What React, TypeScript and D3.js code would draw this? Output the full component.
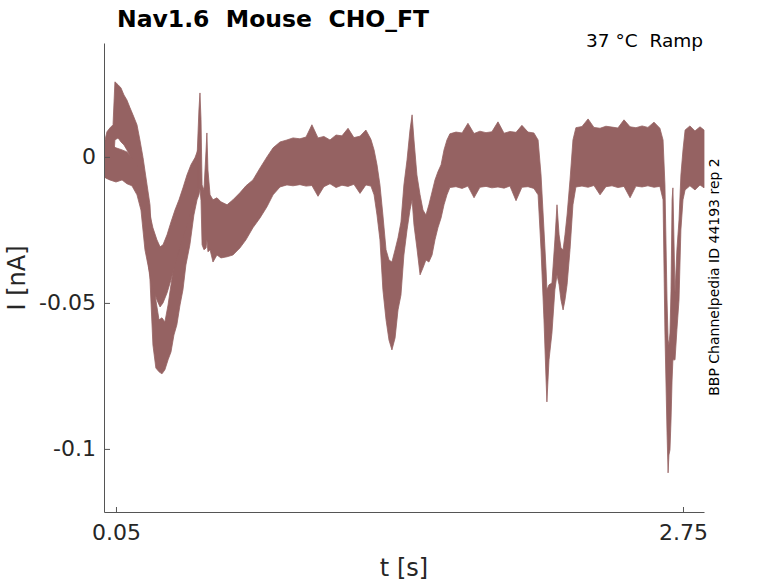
import { useEffect, useRef } from "react";
import * as d3 from "d3";

const WIDTH = 778;
const HEIGHT = 583;
const margin = { top: 43, right: 74, bottom: 71, left: 104 };
const innerW = WIDTH - margin.left - margin.right;
const innerH = HEIGHT - margin.top - margin.bottom;

const TRACE_COLOR = "#956262";
const FONT = "DejaVu Sans, sans-serif";

const X_TICKS = [0.05, 2.75];
const Y_TICKS = [0, -0.05, -0.1];

// sweep 1 (envelope of the noisy current, nA) - covers whole recording
const T_MAIN = [
  0, 0.007, 0.021, 0.036, 0.045, 0.06, 0.074, 0.088, 0.102, 0.117, 0.131, 0.15, 0.164, 0.179, 0.198, 0.212,
  0.226, 0.24, 0.255, 0.269, 0.283, 0.298, 0.312, 0.326, 0.34, 0.355, 0.369, 0.383, 0.402, 0.421, 0.436,
  0.445, 0.45, 0.455, 0.46, 0.469, 0.479, 0.483, 0.488, 0.498, 0.512, 0.531, 0.55, 0.579, 0.607, 0.64,
  0.669, 0.702, 0.736, 0.769, 0.798, 0.831, 0.864, 0.893,
  0.926, 0.955, 0.983, 1.012, 1.04, 1.069, 1.098, 1.126, 1.155, 1.183, 1.212, 1.24, 1.264,
  1.279, 1.293, 1.307, 1.321, 1.336, 1.35, 1.364, 1.379, 1.393, 1.407, 1.421, 1.436, 1.45, 1.46, 1.469,
  1.483, 1.498, 1.512, 1.526, 1.54, 1.555, 1.569, 1.583, 1.598, 1.612, 1.626,
  1.64, 1.669, 1.698, 1.726, 1.755, 1.783, 1.812, 1.84, 1.869, 1.898, 1.926, 1.955, 1.983, 2.012, 2.04,
  2.06, 2.074, 2.088, 2.098, 2.102, 2.112, 2.126, 2.14, 2.15, 2.16, 2.169, 2.179, 2.188, 2.198, 2.212, 2.226,
  2.24, 2.269, 2.298, 2.326, 2.355, 2.383, 2.412, 2.44, 2.469, 2.498, 2.526, 2.555, 2.583, 2.612, 2.64,
  2.655, 2.664, 2.674, 2.679, 2.683, 2.688, 2.693, 2.698, 2.702, 2.712, 2.721, 2.731, 2.74, 2.75, 2.76,
  2.783, 2.807, 2.831, 2.85,
];
const HI_MAIN = [
  0.0065, 0.0086, 0.0099, 0.011, 0.0257, 0.0247, 0.0236, 0.0212, 0.0195, 0.0168, 0.0144, 0.011, 0.0058,
  -0.0003, -0.0096, -0.0164, -0.0353, -0.049, -0.0558, -0.0551, -0.0565, -0.0507, -0.0438, -0.037, -0.0301,
  -0.0233, -0.0164, -0.0113, -0.0062, -0.0027, -0.0003,
  0.0161, 0.0219, 0.0127, -0.0096, -0.0113, 0.0024, 0.0082, -0.0045, -0.013, -0.0147, -0.014, -0.0154,
  -0.0164, -0.0147, -0.0123, -0.0099, -0.0079, -0.0038, 0.0, 0.0031, 0.0051, 0.0058, 0.0065,
  0.0062, 0.0068, 0.011, 0.0065, 0.007, 0.0058, 0.0075, 0.0072, 0.0098, 0.0066, 0.0071, 0.0092, 0.006,
  0.0024, -0.0027, -0.0096, -0.0199, -0.0318, -0.0353, -0.036, -0.0318, -0.0277, -0.0223, -0.0096, -0.001,
  0.0092, 0.0144, 0.0058, -0.0062, -0.013, -0.0182, -0.0199, -0.0164, -0.012, -0.0079, -0.0051, -0.0027,
  0.0024, 0.0058,
  0.0079, 0.0085, 0.0082, 0.0115, 0.008, 0.0088, 0.0083, 0.0086, 0.012, 0.0081, 0.0087, 0.0084, 0.0108,
  0.0085, 0.0082,
  0.0058, -0.0062, -0.025, -0.0387, -0.0455, -0.0438, -0.0432, -0.0284, -0.0164, -0.0267, -0.0312, -0.0318,
  -0.0267, -0.0199, -0.0079, 0.0058,
  0.01, 0.0104, 0.013, 0.0101, 0.0098, 0.0105, 0.0102, 0.0099, 0.0127, 0.0103, 0.01, 0.0106, 0.0101,
  0.0119, 0.0098,
  0.0058, -0.0096, -0.049, -0.0627, -0.0644, -0.0603, -0.0455, -0.0147, -0.0106, -0.0466, -0.0318, -0.0216,
  -0.0062, 0.0024, 0.0092,
  0.0106, 0.0089, 0.0103, 0.0092,
];
const LO_MAIN = [
  -0.0072, -0.0065, -0.0079, -0.0051, 0.0058, 0.0065, 0.0051, 0.0041, 0.0024, 0.0003, -0.0017, -0.0045,
  -0.0113, -0.0199, -0.0318, -0.0421, -0.0644, -0.0723, -0.0736, -0.0743, -0.0729, -0.0695, -0.0668, -0.061,
  -0.0575, -0.0507, -0.0455, -0.037, -0.0301, -0.0199, -0.0147,
  -0.013, -0.011, -0.015, -0.0301, -0.0318, -0.0312, -0.0284, -0.0325, -0.0318, -0.036, -0.0336, -0.0346,
  -0.0342, -0.0336, -0.0312, -0.0284, -0.0243, -0.0209, -0.0171, -0.013, -0.0103, -0.0096, -0.0099,
  -0.0095, -0.01, -0.0098, -0.0135, -0.0102, -0.0092, -0.0105, -0.0097, -0.0101, -0.0094, -0.0125, -0.0096,
  -0.01,
  -0.013, -0.0199, -0.0284, -0.0455, -0.0558, -0.0627, -0.0661, -0.062, -0.0524, -0.0473, -0.0336, -0.025,
  -0.0182, -0.0147, -0.0233, -0.0312, -0.0404, -0.038, -0.0353, -0.036, -0.0336, -0.0284, -0.0243, -0.0209,
  -0.0164, -0.013,
  -0.0105, -0.0102, -0.0108, -0.01, -0.014, -0.0104, -0.0101, -0.0106, -0.0103, -0.0107, -0.01, -0.015,
  -0.0104, -0.0102, -0.0108,
  -0.013, -0.0318, -0.0558, -0.0764, -0.0839, -0.0695, -0.0603, -0.0455, -0.0404, -0.0438, -0.049, -0.0524,
  -0.049, -0.0438, -0.0318, -0.0164,
  -0.0103, -0.01, -0.0104, -0.0098, -0.013, -0.0102, -0.0099, -0.0105, -0.0101, -0.014, -0.01, -0.0103,
  -0.0099, -0.0104, -0.0101,
  -0.0147, -0.0603, -0.0945, -0.1082, -0.1021, -0.1003, -0.0901, -0.0764, -0.0695, -0.0695, -0.0592, -0.049,
  -0.025, -0.0147, -0.0113,
  -0.0099, -0.0113, -0.0096, -0.0106,
];

// sweep 2, where it separates from sweep 1 at the start
const T_SWEEP2 = [
  0, 0.021, 0.05, 0.079, 0.102, 0.126, 0.15, 0.169, 0.188, 0.207, 0.226, 0.245, 0.26, 0.274, 0.293, 0.312,
  0.331, 0.35, 0.369, 0.388, 0.407, 0.426, 0.44,
];
const HI_SWEEP2 = [
  0.0058, 0.0041, 0.0031, 0.0024, 0.0017, -0.0003, -0.0027, -0.0062, -0.0113, -0.0182, -0.0243, -0.0284,
  -0.0308, -0.0301, -0.0267, -0.0223, -0.0182, -0.0147, -0.0106, -0.0062, -0.0027, -0.0003, 0.0024,
];
const LO_SWEEP2 = [
  -0.0072, -0.0079, -0.0086, -0.0079, -0.0092, -0.0099, -0.013, -0.0182, -0.0318, -0.0387, -0.0445, -0.049,
  -0.0514, -0.05, -0.0466, -0.0421, -0.037, -0.0318, -0.0277, -0.0233, -0.0182, -0.013, -0.0106,
];

type Pt = { t: number; hi: number; lo: number };

const App = () => {
  const svgRef = useRef<SVGSVGElement | null>(null);

  useEffect(() => {
    if (!svgRef.current) return;
    const svg = d3.select(svgRef.current);
    svg.selectAll("*").remove();

    const x = d3.scaleLinear().domain([-0.007, 2.85]).range([0, innerW]);
    const y = d3.scaleLinear().domain([-0.1216, 0.039]).range([innerH, 0]);

    const g = svg
      .append("g")
      .attr("transform", `translate(${margin.left}, ${margin.top})`);

    const area = d3
      .area<Pt>()
      .x((d) => x(d.t))
      .y0((d) => y(d.lo))
      .y1((d) => y(d.hi));

    const sweeps = [
      T_MAIN.map((t, i) => ({ t, hi: HI_MAIN[i], lo: LO_MAIN[i] })),
      T_SWEEP2.map((t, i) => ({ t, hi: HI_SWEEP2[i], lo: LO_SWEEP2[i] })),
    ];

    g.selectAll("path.sweep")
      .data(sweeps)
      .join("path")
      .attr("class", "sweep")
      .attr("d", area)
      .attr("fill", TRACE_COLOR)
      .attr("stroke", TRACE_COLOR)
      .attr("stroke-width", 0.8)
      .attr("stroke-linejoin", "miter");

    // axes
    const xAxis = g
      .append("g")
      .attr("transform", `translate(0, ${innerH})`)
      .call(
        d3
          .axisBottom(x)
          .tickValues(X_TICKS)
          .tickFormat(d3.format(".2f"))
          .tickSizeInner(-5)
          .tickSizeOuter(0)
          .tickPadding(12)
      );
    const yAxis = g.append("g").call(
      d3
        .axisLeft(y)
        .tickValues(Y_TICKS)
        .tickFormat((d) => `${d}`)
        .tickSizeInner(-6)
        .tickSizeOuter(0)
        .tickPadding(8)
    );
    [xAxis, yAxis].forEach((a) => {
      a.select(".domain").attr("stroke", "#555").attr("stroke-width", 1);
      a.selectAll(".tick line").attr("stroke", "#555");
      a.selectAll(".tick text")
        .attr("fill", "#262626")
        .attr("font-size", 22)
        .attr("font-family", FONT);
    });

    // labels
    svg
      .append("text")
      .attr("x", margin.left + innerW / 2)
      .attr("y", 576)
      .attr("text-anchor", "middle")
      .attr("font-size", 24)
      .attr("font-family", FONT)
      .attr("fill", "#262626")
      .text("t [s]");

    svg
      .append("text")
      .attr("transform", `translate(25, 278) rotate(-90)`)
      .attr("text-anchor", "middle")
      .attr("font-size", 24)
      .attr("font-family", FONT)
      .attr("fill", "#262626")
      .text("I [nA]");

    svg
      .append("text")
      .attr("x", 117)
      .attr("y", 27)
      .attr("font-size", 23.5)
      .attr("font-weight", "bold")
      .attr("font-family", FONT)
      .attr("fill", "#000")
      .style("white-space", "pre")
      .text("Nav1.6  Mouse  CHO_FT");

    svg
      .append("text")
      .attr("x", 703)
      .attr("y", 47)
      .attr("text-anchor", "end")
      .attr("font-size", 18.5)
      .attr("font-family", FONT)
      .attr("fill", "#000")
      .style("white-space", "pre")
      .text("37 °C  Ramp");

    svg
      .append("text")
      .attr("transform", `translate(719, 277) rotate(-90)`)
      .attr("text-anchor", "middle")
      .attr("font-size", 14)
      .attr("font-family", FONT)
      .attr("fill", "#000")
      .text("BBP Channelpedia ID 44193 rep 2");
  }, []);

  return (
    <svg
      ref={svgRef}
      width={WIDTH}
      height={HEIGHT}
      style={{ position: "absolute", left: 0, top: 0, background: "#fff" }}
    />
  );
};

export default App;
